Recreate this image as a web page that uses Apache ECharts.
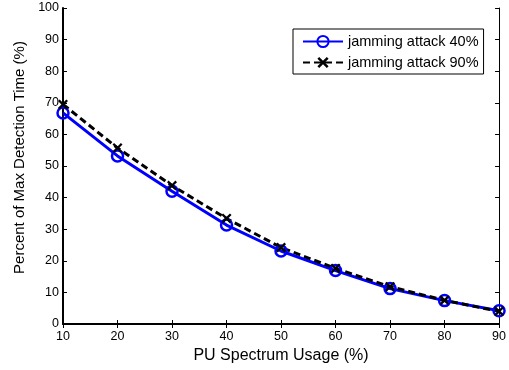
<!DOCTYPE html>
<html>
<head>
<meta charset="utf-8">
<script src="https://cdn.jsdelivr.net/npm/echarts@6/dist/echarts.min.js"></script>
<style>
  html, body { margin: 0; padding: 0; background: #fff; }
  #chart { width: 509px; height: 370px; }
</style>
</head>
<body>
<div id="chart"></div>
<script>
const usage = [10, 20, 30, 40, 50, 60, 70, 80, 90]
const jam40 = [66.8, 53.2, 42.0, 31.3, 23.1, 16.9, 11.2, 7.4, 4.2]
const jam90 = [69.5, 55.7, 43.8, 33.4, 24.2, 17.6, 11.8, 7.5, 4.0]
const seriesNames = ['jamming attack 40%', 'jamming attack 90%']

const font = 'Liberation Sans, Arial, sans-serif'
const crossPath = 'path://M0,1.6L1.6,0L5,3.4L8.4,0L10,1.6L6.6,5L10,8.4L8.4,10L5,6.6L1.6,10L0,8.4L3.4,5Z'

const chart = echarts.init(document.getElementById('chart'), null, { renderer: 'canvas' })

const tickAxis = {
  axisLine: { show: true, lineStyle: { color: '#000', width: 2 } },
  axisTick: { show: true, inside: true, length: 4, lineStyle: { color: '#000', width: 1 } },
  splitLine: { show: false }
}

chart.setOption({
  animation: false,
  textStyle: { fontFamily: font },
  grid: { left: 63, right: 8, top: 8, bottom: 46 },
  legend: {
    orient: 'vertical',
    left: 293,
    top: 29,
    padding: [5, 5, 4, 9],
    itemGap: 6,
    itemWidth: 40,
    itemHeight: 14,
    backgroundColor: '#fff',
    borderColor: '#000',
    borderWidth: 1,
    borderRadius: 0,
    textStyle: { fontFamily: font, fontSize: 14.5, color: '#000' },
    data: seriesNames
  },
  xAxis: [
    {
      type: 'value', min: 10, max: 90, interval: 10,
      name: 'PU Spectrum Usage (%)', nameLocation: 'middle', nameGap: 22,
      nameTextStyle: { fontSize: 16, color: '#000', fontFamily: font },
      axisLabel: { color: '#000', fontSize: 12.5, margin: 6, fontFamily: font },
      ...tickAxis
    },
    {
      type: 'value', min: 10, max: 90, interval: 10, position: 'top',
      axisLabel: { show: false },
      ...tickAxis,
      axisLine: { show: true, lineStyle: { color: '#000', width: 1 } }
    }
  ],
  yAxis: [
    {
      type: 'value', min: 0, max: 100, interval: 10,
      name: 'Percent of Max Detection Time (%)', nameLocation: 'middle', nameGap: 35,
      nameTextStyle: { fontSize: 15, color: '#000', fontFamily: font, padding: [0, 0, 0, 17] },
      axisLabel: { color: '#000', fontSize: 12.5, margin: 4, fontFamily: font },
      ...tickAxis
    },
    {
      type: 'value', min: 0, max: 100, interval: 10, position: 'right',
      axisLabel: { show: false },
      ...tickAxis,
      axisLine: { show: true, lineStyle: { color: '#000', width: 1 } }
    }
  ],
  series: [
    {
      name: seriesNames[0],
      type: 'line',
      data: usage.map((u, i) => [u, jam40[i]]),
      symbol: 'circle',
      symbolSize: 11,
      lineStyle: { color: '#0000ff', width: 3 },
      itemStyle: { color: 'rgba(255,255,255,0)', borderColor: '#0000ff', borderWidth: 2.5 }
    },
    {
      name: seriesNames[1],
      type: 'line',
      data: usage.map((u, i) => [u, jam90[i]]),
      symbol: crossPath,
      symbolSize: 10,
      lineStyle: { color: '#000', width: 3, type: [7, 4] },
      itemStyle: { color: '#000' }
    }
  ]
})
</script>
</body>
</html>
